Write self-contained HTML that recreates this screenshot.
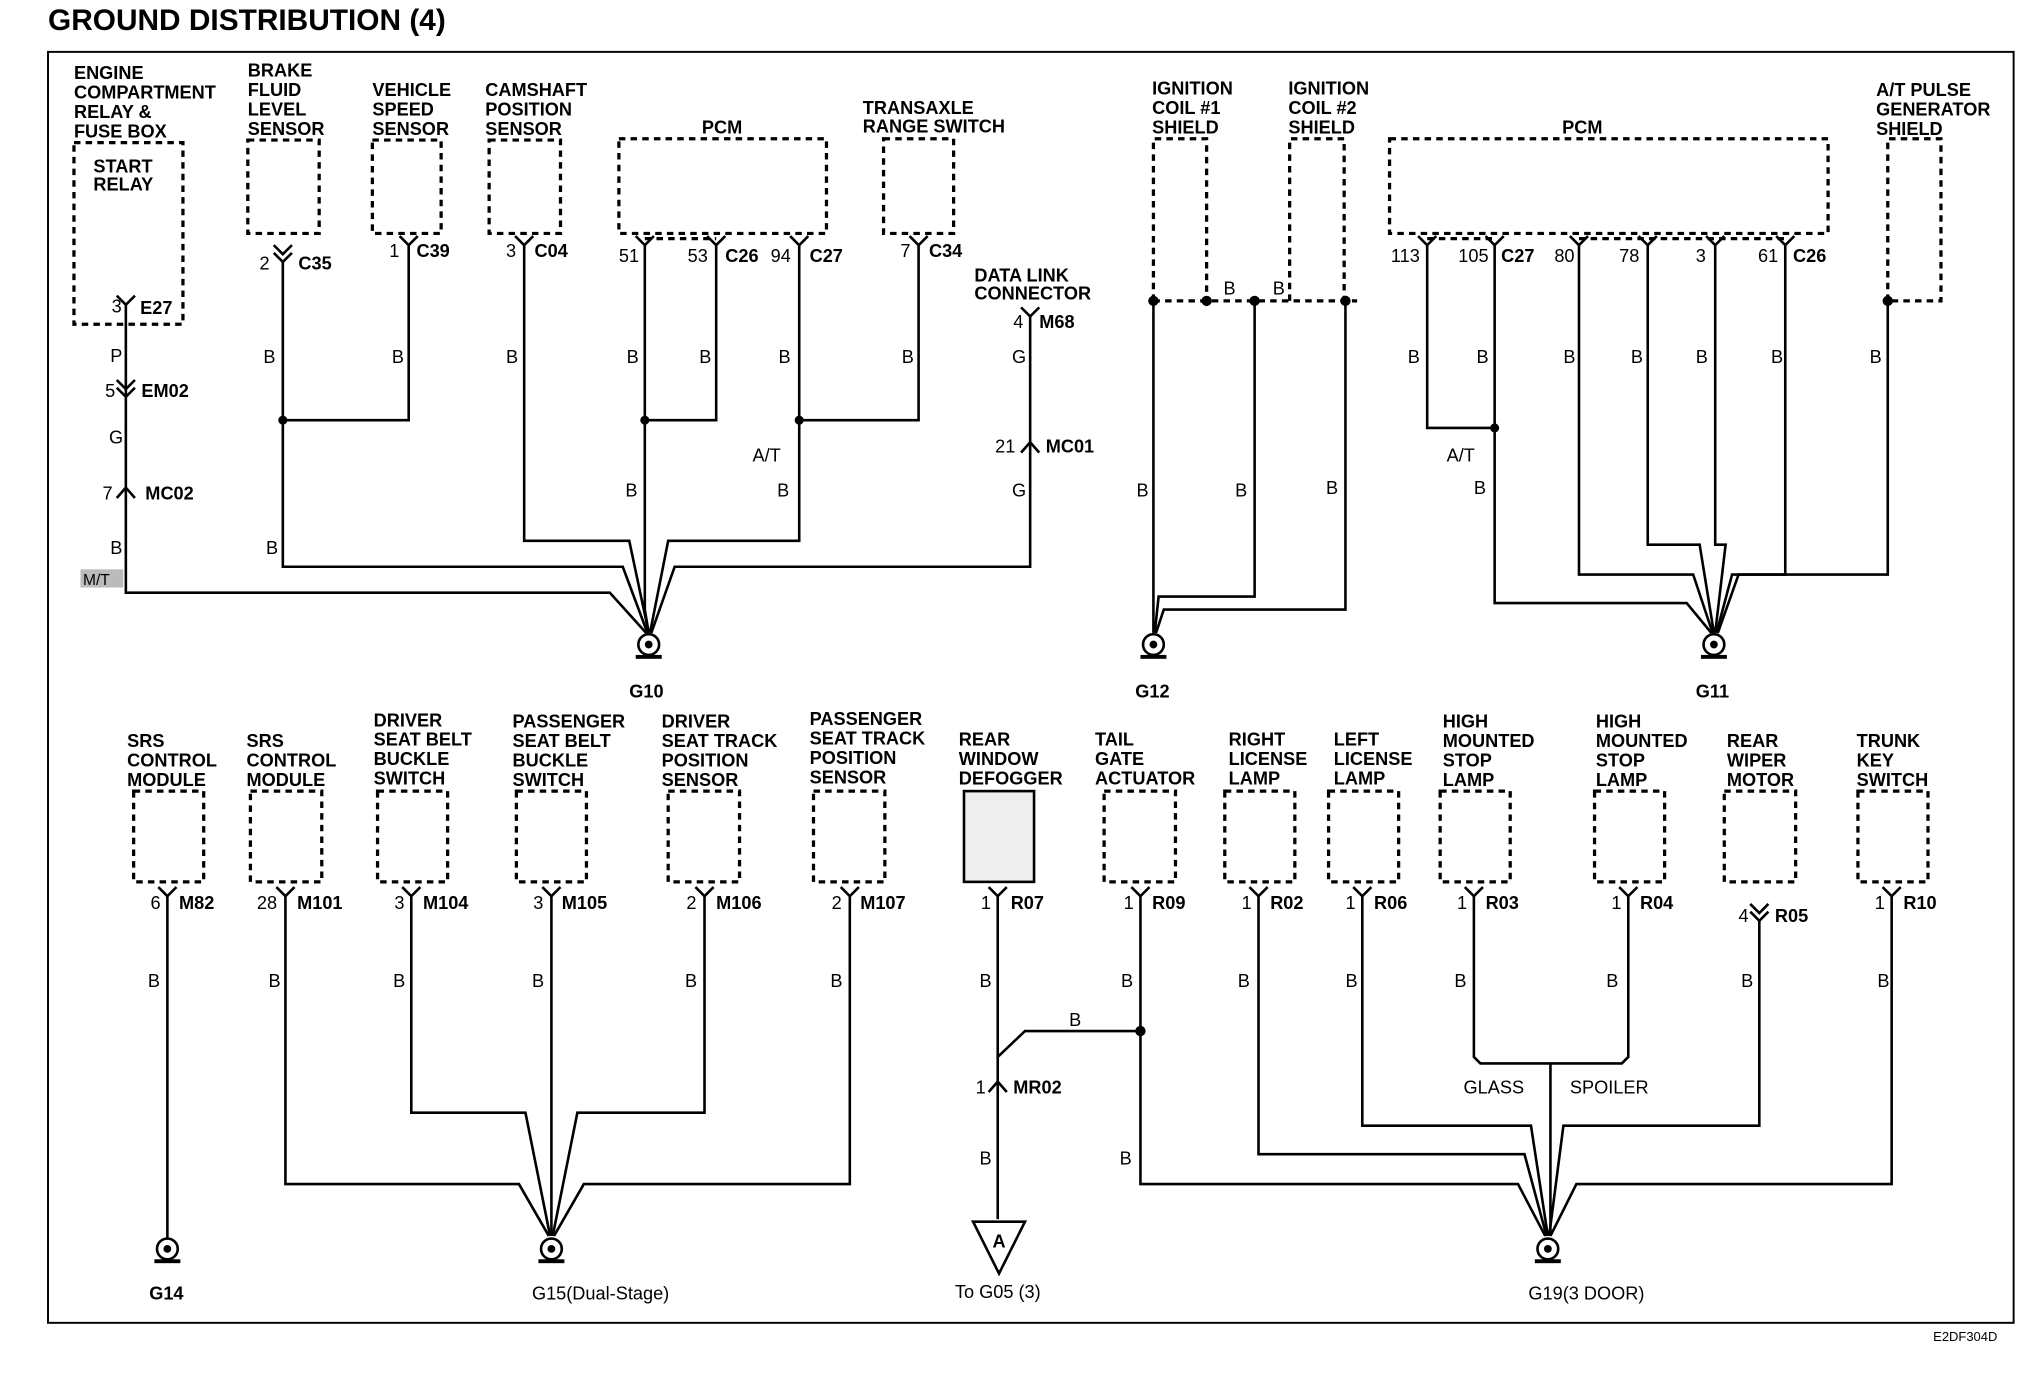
<!DOCTYPE html>
<html><head><style>
html,body{margin:0;padding:0;background:#fff}
svg{display:block}
text{font-family:"Liberation Sans",sans-serif;font-weight:bold;font-size:14px;fill:#000}
.n{font-weight:normal}
.w{stroke:#000;stroke-width:2;fill:none}
.d{stroke:#000;stroke-width:2.5;fill:none;stroke-dasharray:5,4}
</style></head><body>
<svg width="2024" height="1376" viewBox="0 0 1560 1061" preserveAspectRatio="none">
<text x="37" y="23" style="font-size:23px">GROUND DISTRIBUTION (4)</text>
<rect x="37" y="40" width="1515" height="980" fill="none" stroke="#000" stroke-width="1.5"/>
<text x="1490" y="1034" class="n" style="font-size:10px">E2DF304D</text>

<!-- TOP LABELS -->
<g>
<text x="57" y="61">ENGINE</text><text x="57" y="76">COMPARTMENT</text><text x="57" y="91">RELAY &amp;</text><text x="57" y="106">FUSE BOX</text>
<text x="191" y="59">BRAKE</text><text x="191" y="74">FLUID</text><text x="191" y="89">LEVEL</text><text x="191" y="104">SENSOR</text>
<text x="287" y="74">VEHICLE</text><text x="287" y="89">SPEED</text><text x="287" y="104">SENSOR</text>
<text x="374" y="74">CAMSHAFT</text><text x="374" y="89">POSITION</text><text x="374" y="104">SENSOR</text>
<text x="541" y="103">PCM</text>
<text x="665" y="88">TRANSAXLE</text><text x="665" y="102">RANGE SWITCH</text>
<text x="751" y="217">DATA LINK</text><text x="751" y="231">CONNECTOR</text>
<text x="888" y="73">IGNITION</text><text x="888" y="88">COIL #1</text><text x="888" y="103">SHIELD</text>
<text x="993" y="73">IGNITION</text><text x="993" y="88">COIL #2</text><text x="993" y="103">SHIELD</text>
<text x="1204" y="103">PCM</text>
<text x="1446" y="74">A/T PULSE</text><text x="1446" y="89">GENERATOR</text><text x="1446" y="104">SHIELD</text>
</g>
<!-- TOP BOXES -->
<rect x="57" y="110" width="84" height="140" fill="#ccc" class="d"/>
<text x="72" y="133">START</text><text x="72" y="147">RELAY</text>
<rect x="191" y="108" width="55" height="72" class="d"/>
<rect x="287" y="108" width="53" height="72" class="d"/>
<rect x="377" y="108" width="55" height="72" class="d"/>
<rect x="477" y="107" width="160" height="73" class="d"/>
<rect x="681" y="107" width="54" height="73" class="d"/>
<rect x="1071" y="107" width="338" height="73" class="d"/>
<path class="d" d="M889 232V107H930V232M994 232V107H1036V232M889 232H1046M1455 232V107H1496V232H1455"/>
<path class="d" d="M497 184H552M616 184H616M1100 184H1152M1217 184H1376"/>
<!-- TOP CONNECTORS -->
<g class="w">
<polyline points="90,228 97,235 104,228"/>
<polyline points="211,189 218,196 225,189"/><polyline points="211,195 218,202 225,195"/>
<polyline points="308,182 315,189 322,182"/>
<polyline points="397,182 404,189 411,182"/>
<polyline points="490,182 497,189 504,182"/><polyline points="545,182 552,189 559,182"/><polyline points="609,182 616,189 623,182"/>
<polyline points="701,182 708,189 715,182"/>
<polyline points="787,237 794,244 801,237"/>
<polyline points="90,293 97,300 104,293"/><polyline points="90,299 97,306 104,299"/>
<polyline points="90,384 97,376 104,384"/>
<polyline points="787,349 794,341 801,349"/>
<polyline points="1093,182 1100,189 1107,182"/><polyline points="1145,182 1152,189 1159,182"/><polyline points="1210,182 1217,189 1224,182"/><polyline points="1263,182 1270,189 1277,182"/><polyline points="1315,182 1322,189 1329,182"/><polyline points="1369,182 1376,189 1383,182"/>
</g>
<g>
<text x="86" y="241" class="n">3</text><text x="108" y="242">E27</text>
<text x="200" y="208" class="n">2</text><text x="230" y="208">C35</text>
<text x="300" y="198" class="n">1</text><text x="321" y="198">C39</text>
<text x="390" y="198" class="n">3</text><text x="412" y="198">C04</text>
<text x="477" y="202" class="n">51</text><text x="530" y="202" class="n">53</text><text x="559" y="202">C26</text><text x="594" y="202" class="n">94</text><text x="624" y="202">C27</text>
<text x="694" y="198" class="n">7</text><text x="716" y="198">C34</text>
<text x="781" y="253" class="n">4</text><text x="801" y="253">M68</text>
<text x="81" y="306" class="n">5</text><text x="109" y="306">EM02</text>
<text x="79" y="385" class="n">7</text><text x="112" y="385">MC02</text>
<text x="767" y="349" class="n">21</text><text x="806" y="349">MC01</text>
<text x="1072" y="202" class="n">113</text><text x="1124" y="202" class="n">105</text><text x="1157" y="202">C27</text><text x="1198" y="202" class="n">80</text><text x="1248" y="202" class="n">78</text><text x="1307" y="202" class="n">3</text><text x="1355" y="202" class="n">61</text><text x="1382" y="202">C26</text>
</g>
<!-- TOP WIRES -->
<g class="w">
<path d="M97 235V457H470L498 488"/>
<path d="M218 202V437H480L499 488"/><path d="M315 189V324H218"/>
<path d="M404 189V417H485L500 488"/>
<path d="M497 189V470L500 488"/><path d="M552 189V324H497"/>
<path d="M616 189V417H515L501 488"/><path d="M708 189V324H616"/>
<path d="M794 244V437H520L502 488"/>
<path d="M889 232V488"/><path d="M967 232V460H893L890 488"/><path d="M1037 232V470H897L891 488"/>
<path d="M1100 189V330H1152"/><path d="M1152 189V465H1300L1319 488"/>
<path d="M1217 189V443H1305L1320 488"/><path d="M1270 189V420H1310L1321 488"/>
<path d="M1322 189V420H1330L1322 488"/><path d="M1376 189V443H1335L1323 488"/>
<path d="M1455 232V443H1340L1324 488"/>
</g>
<g>
<circle cx="218" cy="324" r="3.5"/><circle cx="497" cy="324" r="3.5"/><circle cx="616" cy="324" r="3.5"/>
<circle cx="889" cy="232" r="4"/><circle cx="930" cy="232" r="4"/><circle cx="967" cy="232" r="4"/><circle cx="1037" cy="232" r="4"/>
<circle cx="1152" cy="330" r="3.5"/><circle cx="1455" cy="232" r="4"/>
</g>
<g>
<text x="85" y="279" class="n">P</text><text x="84" y="342" class="n">G</text><text x="85" y="427" class="n">B</text>
<rect x="62" y="439" width="33" height="14" fill="#bbb"/><text x="64" y="451" class="n" style="font-size:12px">M/T</text>
<text x="203" y="280" class="n">B</text><text x="302" y="280" class="n">B</text><text x="390" y="280" class="n">B</text><text x="205" y="427" class="n">B</text>
<text x="483" y="280" class="n">B</text><text x="539" y="280" class="n">B</text><text x="600" y="280" class="n">B</text><text x="695" y="280" class="n">B</text>
<text x="580" y="356" class="n">A/T</text><text x="482" y="383" class="n">B</text><text x="599" y="383" class="n">B</text>
<text x="780" y="280" class="n">G</text><text x="780" y="383" class="n">G</text>
<text x="943" y="227" class="n">B</text><text x="981" y="227" class="n">B</text>
<text x="876" y="383" class="n">B</text><text x="952" y="383" class="n">B</text><text x="1022" y="381" class="n">B</text>
<text x="1085" y="280" class="n">B</text><text x="1138" y="280" class="n">B</text><text x="1205" y="280" class="n">B</text><text x="1257" y="280" class="n">B</text><text x="1307" y="280" class="n">B</text><text x="1365" y="280" class="n">B</text><text x="1441" y="280" class="n">B</text>
<text x="1115" y="356" class="n">A/T</text><text x="1136" y="381" class="n">B</text>
</g>
<!-- GROUND SYMBOLS -->
<g id="gs">
<circle cx="500" cy="497" r="8" fill="#fff" stroke="#000" stroke-width="2"/><circle cx="500" cy="497" r="3"/><rect x="490" y="505" width="20" height="3"/>
<circle cx="889" cy="497" r="8" fill="#fff" stroke="#000" stroke-width="2"/><circle cx="889" cy="497" r="3"/><rect x="879" y="505" width="20" height="3"/>
<circle cx="1321" cy="497" r="8" fill="#fff" stroke="#000" stroke-width="2"/><circle cx="1321" cy="497" r="3"/><rect x="1311" y="505" width="20" height="3"/>
<circle cx="129" cy="963" r="8" fill="#fff" stroke="#000" stroke-width="2"/><circle cx="129" cy="963" r="3"/><rect x="119" y="971" width="20" height="3"/>
<circle cx="425" cy="963" r="8" fill="#fff" stroke="#000" stroke-width="2"/><circle cx="425" cy="963" r="3"/><rect x="415" y="971" width="20" height="3"/>
<circle cx="1193" cy="963" r="8" fill="#fff" stroke="#000" stroke-width="2"/><circle cx="1193" cy="963" r="3"/><rect x="1183" y="971" width="20" height="3"/>
</g>
<text x="485" y="538">G10</text><text x="875" y="538">G12</text><text x="1307" y="538">G11</text>
<text x="115" y="1002">G14</text><text x="410" y="1002" class="n">G15(Dual-Stage)</text><text x="1178" y="1002" class="n">G19(3 DOOR)</text>

<!-- BOTTOM LABELS -->
<g>
<text x="98" y="576">SRS</text><text x="98" y="591">CONTROL</text><text x="98" y="606">MODULE</text>
<text x="190" y="576">SRS</text><text x="190" y="591">CONTROL</text><text x="190" y="606">MODULE</text>
<text x="288" y="560">DRIVER</text><text x="288" y="575">SEAT BELT</text><text x="288" y="590">BUCKLE</text><text x="288" y="605">SWITCH</text>
<text x="395" y="561">PASSENGER</text><text x="395" y="576">SEAT BELT</text><text x="395" y="591">BUCKLE</text><text x="395" y="606">SWITCH</text>
<text x="510" y="561">DRIVER</text><text x="510" y="576">SEAT TRACK</text><text x="510" y="591">POSITION</text><text x="510" y="606">SENSOR</text>
<text x="624" y="559">PASSENGER</text><text x="624" y="574">SEAT TRACK</text><text x="624" y="589">POSITION</text><text x="624" y="604">SENSOR</text>
<text x="739" y="575">REAR</text><text x="739" y="590">WINDOW</text><text x="739" y="605">DEFOGGER</text>
<text x="844" y="575">TAIL</text><text x="844" y="590">GATE</text><text x="844" y="605">ACTUATOR</text>
<text x="947" y="575">RIGHT</text><text x="947" y="590">LICENSE</text><text x="947" y="605">LAMP</text>
<text x="1028" y="575">LEFT</text><text x="1028" y="590">LICENSE</text><text x="1028" y="605">LAMP</text>
<text x="1112" y="561">HIGH</text><text x="1112" y="576">MOUNTED</text><text x="1112" y="591">STOP</text><text x="1112" y="606">LAMP</text>
<text x="1230" y="561">HIGH</text><text x="1230" y="576">MOUNTED</text><text x="1230" y="591">STOP</text><text x="1230" y="606">LAMP</text>
<text x="1331" y="576">REAR</text><text x="1331" y="591">WIPER</text><text x="1331" y="606">MOTOR</text>
<text x="1431" y="576">TRUNK</text><text x="1431" y="591">KEY</text><text x="1431" y="606">SWITCH</text>
</g>
<!-- BOTTOM BOXES -->
<g>
<rect x="103" y="610" width="54" height="70" class="d"/>
<rect x="193" y="610" width="55" height="70" class="d"/>
<rect x="291" y="610" width="54" height="70" class="d"/>
<rect x="398" y="610" width="54" height="70" class="d"/>
<rect x="515" y="610" width="55" height="70" class="d"/>
<rect x="627" y="610" width="55" height="70" class="d"/>
<rect x="743" y="610" width="54" height="70" fill="#eee" stroke="#000" stroke-width="2"/>
<rect x="851" y="610" width="55" height="70" class="d"/>
<rect x="944" y="610" width="54" height="70" class="d"/>
<rect x="1024" y="610" width="54" height="70" class="d"/>
<rect x="1110" y="610" width="54" height="70" class="d"/>
<rect x="1229" y="610" width="54" height="70" class="d"/>
<rect x="1329" y="610" width="55" height="70" class="d"/>
<rect x="1432" y="610" width="54" height="70" class="d"/>
</g>
<g class="w">
<polyline points="122,684 129,691 136,684"/><polyline points="213,684 220,691 227,684"/><polyline points="310,684 317,691 324,684"/><polyline points="418,684 425,691 432,684"/><polyline points="536,684 543,691 550,684"/><polyline points="648,684 655,691 662,684"/>
<polyline points="762,684 769,691 776,684"/><polyline points="872,684 879,691 886,684"/><polyline points="963,684 970,691 977,684"/><polyline points="1043,684 1050,691 1057,684"/><polyline points="1129,684 1136,691 1143,684"/><polyline points="1248,684 1255,691 1262,684"/>
<polyline points="1349,697 1356,704 1363,697"/><polyline points="1349,703 1356,710 1363,703"/><polyline points="1451,684 1458,691 1465,684"/>
<polyline points="762,842 769,834 776,842"/>
</g>
<g>
<text x="116" y="701" class="n">6</text><text x="138" y="701">M82</text>
<text x="198" y="701" class="n">28</text><text x="229" y="701">M101</text>
<text x="304" y="701" class="n">3</text><text x="326" y="701">M104</text>
<text x="411" y="701" class="n">3</text><text x="433" y="701">M105</text>
<text x="529" y="701" class="n">2</text><text x="552" y="701">M106</text>
<text x="641" y="701" class="n">2</text><text x="663" y="701">M107</text>
<text x="756" y="701" class="n">1</text><text x="779" y="701">R07</text>
<text x="866" y="701" class="n">1</text><text x="888" y="701">R09</text>
<text x="957" y="701" class="n">1</text><text x="979" y="701">R02</text>
<text x="1037" y="701" class="n">1</text><text x="1059" y="701">R06</text>
<text x="1123" y="701" class="n">1</text><text x="1145" y="701">R03</text>
<text x="1242" y="701" class="n">1</text><text x="1264" y="701">R04</text>
<text x="1340" y="711" class="n">4</text><text x="1368" y="711">R05</text>
<text x="1445" y="701" class="n">1</text><text x="1467" y="701">R10</text>
<text x="752" y="843" class="n">1</text><text x="781" y="843">MR02</text>
</g>
<g class="w">
<path d="M129 691V955"/>
<path d="M220 691V913H400L423 953"/><path d="M317 691V858H405L424 953"/>
<path d="M425 691V953"/><path d="M543 691V858H445L426 953"/><path d="M655 691V913H450L427 953"/>
<path d="M769 691V940"/><path d="M769 815L790 795H879"/>
<path d="M879 691V913H1170L1191 953"/><path d="M970 691V890H1175L1192 953"/><path d="M1050 691V868H1180L1193 953"/>
<path d="M1136 691V815L1141 820H1250L1255 815V691"/><path d="M1195 820V953"/>
<path d="M1356 710V868H1205L1194 953"/><path d="M1458 691V913H1215L1195 953"/>
</g>
<circle cx="879" cy="795" r="4"/>
<polygon points="750,942 790,942 770,982" fill="#fff" stroke="#000" stroke-width="2"/>
<text x="765" y="962">A</text>
<text x="736" y="1001" class="n">To G05 (3)</text>
<g>
<text x="114" y="761" class="n">B</text><text x="207" y="761" class="n">B</text><text x="303" y="761" class="n">B</text><text x="410" y="761" class="n">B</text><text x="528" y="761" class="n">B</text><text x="640" y="761" class="n">B</text>
<text x="755" y="761" class="n">B</text><text x="864" y="761" class="n">B</text><text x="954" y="761" class="n">B</text><text x="1037" y="761" class="n">B</text><text x="1121" y="761" class="n">B</text><text x="1238" y="761" class="n">B</text><text x="1342" y="761" class="n">B</text><text x="1447" y="761" class="n">B</text>
<text x="824" y="791" class="n">B</text><text x="755" y="898" class="n">B</text><text x="863" y="898" class="n">B</text>
<text x="1128" y="843" class="n">GLASS</text><text x="1210" y="843" class="n">SPOILER</text>
</g>
</svg>
</body></html>
